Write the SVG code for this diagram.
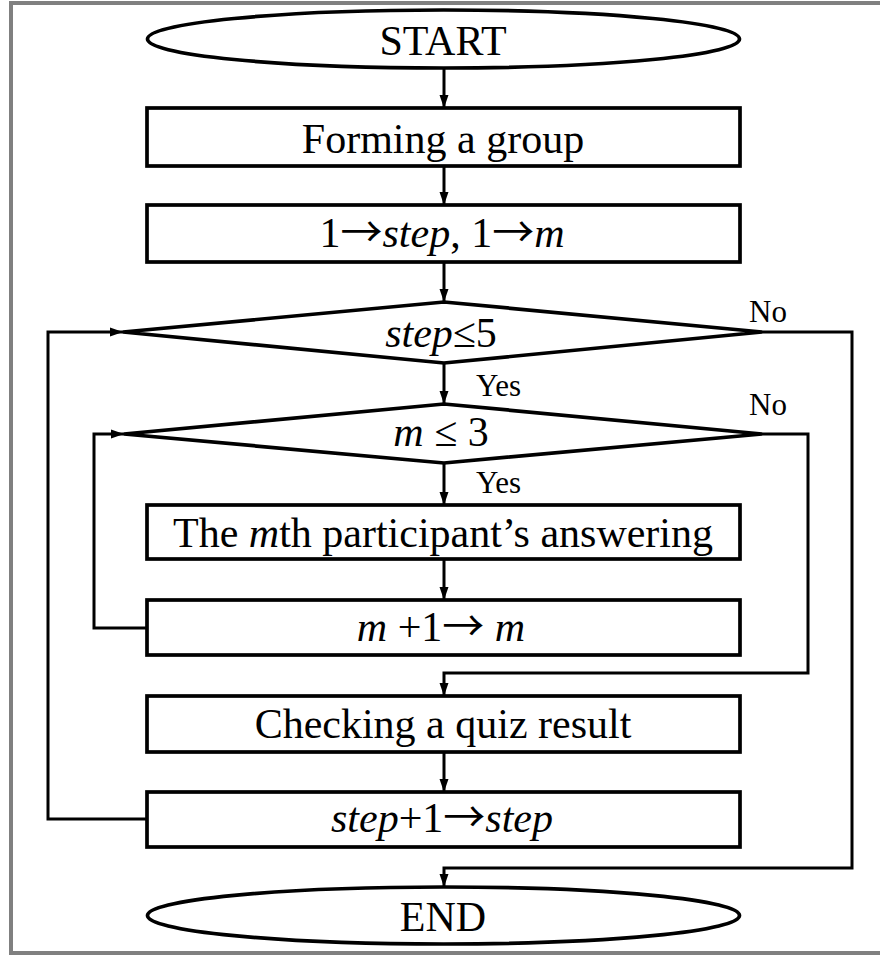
<svg xmlns="http://www.w3.org/2000/svg" width="880" height="955" viewBox="0 0 880 955">
  <style>
    .frame { fill: #ffffff; stroke: #808080; stroke-width: 4; }
    .shape { fill: #ffffff; stroke: #000000; stroke-width: 3.7; }
    .wire { fill: none; stroke: #000000; stroke-width: 3; }
    .lbl { font-family: "Liberation Serif", "Times New Roman", serif; font-size: 42px; fill: #000000; text-anchor: middle; }
    .tag { font-family: "Liberation Serif", "Times New Roman", serif; font-size: 31px; fill: #000000; }
    .it { font-style: italic; }
    .arr { font-family: "Noto Sans CJK JP", "DejaVu Sans", sans-serif; font-size: 42px; }
  </style>
  <defs>
    <marker id="arrow" markerUnits="userSpaceOnUse" markerWidth="14" markerHeight="10" refX="13" refY="5" orient="auto">
      <path d="M0,0.5 L13,5 L0,9.5 Z" fill="#000000"/>
    </marker>
  </defs>

  <!-- page frame -->
  <rect class="frame" x="11" y="3" width="880" height="950"/>

  <!-- connectors -->
  <g id="connectors">
    <line class="wire" x1="444" y1="68" x2="444" y2="108" marker-end="url(#arrow)"/>
    <line class="wire" x1="444" y1="166" x2="444" y2="205" marker-end="url(#arrow)"/>
    <line class="wire" x1="444" y1="262" x2="444" y2="302" marker-end="url(#arrow)"/>
    <line class="wire" x1="444" y1="363" x2="444" y2="404" marker-end="url(#arrow)"/>
    <line class="wire" x1="444" y1="463" x2="444" y2="505" marker-end="url(#arrow)"/>
    <line class="wire" x1="444" y1="559" x2="444" y2="600" marker-end="url(#arrow)"/>
    <line class="wire" x1="444" y1="752" x2="444" y2="792" marker-end="url(#arrow)"/>
    <!-- inner loop back: m+1 -> m to m <= 3 -->
    <polyline class="wire" points="147,628 94,628 94,434 124,434" marker-end="url(#arrow)"/>
    <!-- inner exit: No -->
    <polyline class="wire" points="762,434 808,434 808,673 444,673 444,696" marker-end="url(#arrow)"/>
    <!-- outer loop back: step+1 -> step to step <= 5 -->
    <polyline class="wire" points="147,819 48,819 48,332 123,332" marker-end="url(#arrow)"/>
    <!-- outer exit: No -->
    <polyline class="wire" points="762,332 852,332 852,868 444,868 444,887" marker-end="url(#arrow)"/>
    <text class="tag" x="749" y="322">No</text>
    <text class="tag" x="476" y="396">Yes</text>
    <text class="tag" x="749" y="415">No</text>
    <text class="tag" x="476" y="493">Yes</text>
  </g>

  <g id="start">
    <ellipse class="shape" cx="443.5" cy="39" rx="296" ry="29"/>
    <text class="lbl" x="443" y="55">START</text>
  </g>

  <g id="form-group">
    <rect class="shape" x="147" y="108" width="593" height="58"/>
    <text class="lbl" x="443" y="152.5">Forming a group</text>
  </g>

  <g id="init">
    <rect class="shape" x="147" y="205" width="593" height="57"/>
    <text class="lbl" x="442" y="247">1<tspan class="arr">→</tspan><tspan class="it">step</tspan>, 1<tspan class="arr">→</tspan><tspan class="it">m</tspan></text>
  </g>

  <g id="step-check">
    <polygon class="shape" points="444,302 762,332 444,363 123,332"/>
    <text class="lbl" x="441" y="347"><tspan class="it">step</tspan>≤5</text>
  </g>

  <g id="m-check">
    <polygon class="shape" points="444,404 762,434 444,463 124,434"/>
    <text class="lbl" x="441" y="446"><tspan class="it">m</tspan> ≤ 3</text>
  </g>

  <g id="answering">
    <rect class="shape" x="147" y="505" width="593" height="54"/>
    <text class="lbl" x="443" y="547">The <tspan class="it">m</tspan>th participant’s answering</text>
  </g>

  <g id="m-increment">
    <rect class="shape" x="147" y="600" width="593" height="55"/>
    <text class="lbl" x="441" y="641"><tspan class="it">m</tspan> +1<tspan class="arr">→</tspan> <tspan class="it">m</tspan></text>
  </g>

  <g id="checking">
    <rect class="shape" x="147" y="696" width="593" height="56"/>
    <text class="lbl" x="443" y="738">Checking a quiz result</text>
  </g>

  <g id="step-increment">
    <rect class="shape" x="147" y="792" width="593" height="55"/>
    <text class="lbl" x="442" y="832"><tspan class="it">step</tspan>+1<tspan class="arr">→</tspan><tspan class="it">step</tspan></text>
  </g>

  <g id="end">
    <ellipse class="shape" cx="443.5" cy="915.5" rx="296" ry="28.5"/>
    <text class="lbl" x="443" y="931">END</text>
  </g>
</svg>
